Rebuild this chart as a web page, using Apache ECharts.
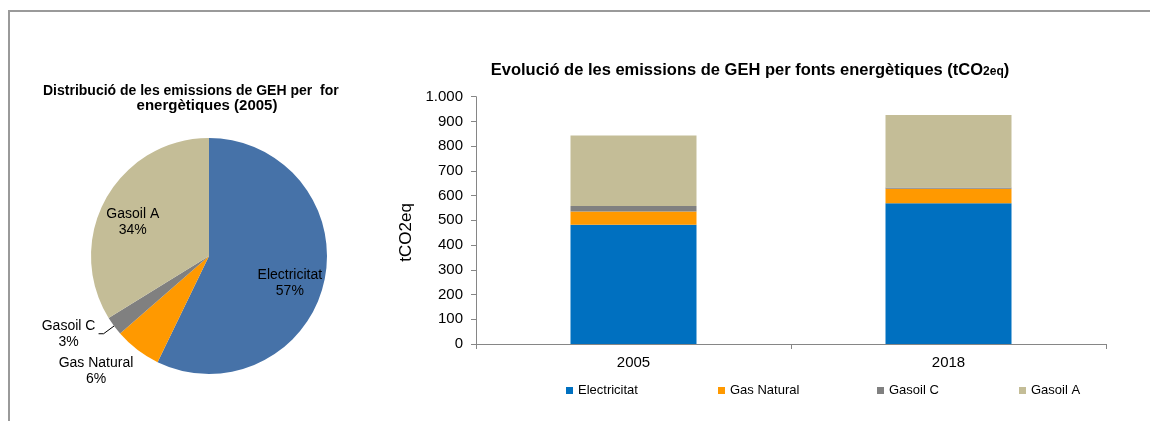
<!DOCTYPE html>
<html>
<head>
<meta charset="utf-8">
<script src="https://cdn.jsdelivr.net/npm/echarts@6/dist/echarts.min.js"></script>
<style>
html,body{margin:0;padding:0;background:#fff;}
#chart{width:1150px;height:421px;}
</style>
</head>
<body>
<div id="chart"></div>
<script>
const categories = ['2005', '2018'];
const seriesNames = ['Electricitat', 'Gas Natural', 'Gasoil C', 'Gasoil A'];
const electricitat = [482, 569];
const gasNatural = [54, 59];
const gasoilC = [22, 5];
const gasoilA = [285, 293];
const yTickLabels = ['0', '100', '200', '300', '400', '500', '600', '700', '800', '900', '1.000'];

const barColors = ['#0070C0', '#FF9900', '#808080', '#C4BD97'];
const pieColors = ['#4672A8', '#FF9900', '#808080', '#C4BD97'];
const legendLefts = [566, 718, 877, 1019];
const FONT = 'Liberation Sans, Arial, sans-serif';

const barSeriesData = [electricitat, gasNatural, gasoilC, gasoilA];
const pieValues = barSeriesData.map(a => a[0]);

const chart = echarts.init(document.getElementById('chart'));

const pieMain = {
  type: 'pie',
  center: [209, 256],
  radius: [0, 118],
  startAngle: 90,
  clockwise: true,
  avoidLabelOverlap: false,
  percentPrecision: 0,
  silent: true,
  animation: false,
  itemStyle: { borderWidth: 0 },
  label: { show: false },
  labelLine: { show: false },
  data: seriesNames.map((n, i) => {
    const item = { name: n, value: pieValues[i], itemStyle: { color: pieColors[i] } };
    if (n === 'Gas Natural') {
      item.label = {
        show: true, position: 'outside', distanceToLabelLine: -13,
        formatter: '{t|{b}}\n{t|{d}%}',
        rich: { t: { width: 76, align: 'center', fontSize: 14, lineHeight: 16, color: '#000', fontFamily: FONT } }
      };
      item.labelLine = { show: false, length: 27, length2: 0 };
    } else if (n === 'Gasoil C') {
      item.label = {
        show: true, position: 'outside', distanceToLabelLine: 2,
        formatter: '{t|{b}}\n{t|{d}%}',
        rich: { t: { width: 56, align: 'center', fontSize: 14, lineHeight: 16, color: '#000', fontFamily: FONT } }
      };
      item.labelLine = { show: true, length: 13, length2: 5, lineStyle: { color: '#000', width: 1 } };
    }
    return item;
  })
};

const pieLabels = {
  type: 'pie',
  center: [207, 264],
  radius: [46, 118],
  startAngle: 90,
  clockwise: true,
  avoidLabelOverlap: false,
  percentPrecision: 0,
  silent: true,
  animation: false,
  z: 5,
  itemStyle: { color: 'rgba(0,0,0,0)', borderWidth: 0 },
  label: { show: false },
  labelLine: { show: false },
  data: seriesNames.map((n, i) => {
    const item = { name: n, value: pieValues[i] };
    if (n === 'Electricitat' || n === 'Gasoil A') {
      item.label = {
        show: true, position: 'inside',
        formatter: '{b}\n{d}%',
        fontSize: 14, lineHeight: 16, color: '#000', fontFamily: FONT
      };
    }
    return item;
  })
};

const barSeries = seriesNames.map((n, i) => ({
  name: n,
  type: 'bar',
  stack: 'total',
  barWidth: '40%',
  animation: false,
  itemStyle: { color: barColors[i] },
  data: barSeriesData[i]
}));

const legends = seriesNames.map((n, i) => ({
  data: [n],
  left: legendLefts[i], top: 384,
  padding: 0,
  itemWidth: 7, itemHeight: 7, itemGap: 0,
  icon: 'rect',
  selectedMode: false,
  textStyle: { fontSize: 13, color: '#000', fontFamily: FONT }
}));

chart.setOption({
  backgroundColor: '#fff',
  textStyle: { fontFamily: FONT },
  graphic: [{
    type: 'rect', silent: true,
    shape: { x: 9, y: 11, width: 1300, height: 500 },
    style: { fill: 'none', stroke: '#9A9A9A', lineWidth: 2 }
  }],
  title: [
    {
      text: 'Distribució de les emissions de GEH per  for',
      left: 38, top: 79,
      textStyle: { fontSize: 14, fontWeight: 'bold', color: '#000', fontFamily: FONT }
    },
    {
      text: 'energètiques (2005)',
      left: 202, textAlign: 'center', top: 93,
      textStyle: { fontSize: 15, fontWeight: 'bold', color: '#000', fontFamily: FONT }
    },
    {
      text: '{a|Evolució de les emissions de GEH per fonts energètiques (tCO}{b|2eq}{a|)}',
      left: 745, textAlign: 'center', top: 55,
      textStyle: {
        rich: {
          a: { fontSize: 16.5, fontWeight: 'bold', color: '#000', fontFamily: FONT, lineHeight: 20 },
          b: { fontSize: 12, fontWeight: 'bold', color: '#000', fontFamily: FONT, lineHeight: 20, verticalAlign: 'bottom', padding: [0, 0, 2, 0] }
        }
      }
    }
  ],
  legend: legends,
  grid: { left: 476, right: 44, top: 96.7, bottom: 77, containLabel: false },
  xAxis: {
    type: 'category',
    data: categories,
    axisLine: { lineStyle: { color: '#868686', width: 1 } },
    axisTick: { show: true, length: 5, alignWithLabel: false, lineStyle: { color: '#868686' } },
    axisLabel: { fontSize: 15, color: '#000', margin: 11, fontFamily: FONT }
  },
  yAxis: {
    type: 'value',
    min: 0, max: 1000, interval: 100,
    name: 'tCO2eq',
    nameLocation: 'middle',
    nameRotate: 90,
    nameGap: 60,
    nameTextStyle: { fontSize: 17, color: '#000', fontFamily: FONT, padding: [0, 24, 0, 0] },
    axisLine: { show: true, lineStyle: { color: '#868686', width: 1 } },
    axisTick: { show: true, length: 5, lineStyle: { color: '#868686' } },
    splitLine: { show: false },
    axisLabel: {
      fontSize: 15, color: '#000', margin: 13, fontFamily: FONT,
      formatter: (v) => yTickLabels[Math.round(v / 100)]
    }
  },
  series: [pieMain, pieLabels].concat(barSeries)
});
</script>
</body>
</html>
